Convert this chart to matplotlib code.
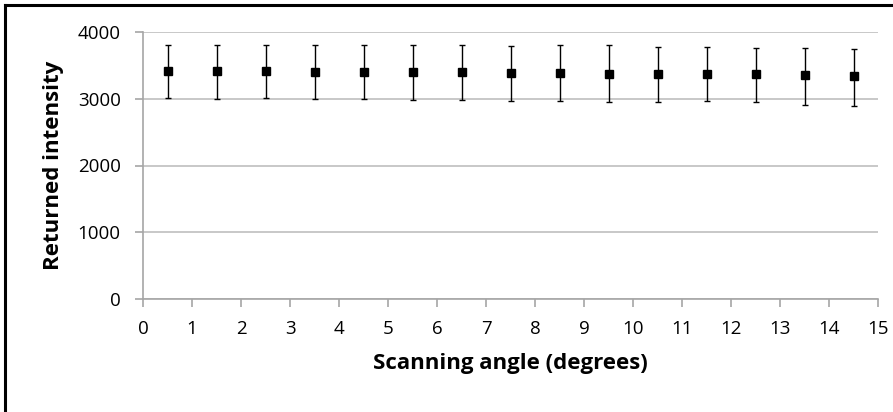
import matplotlib
matplotlib.use("Agg")
import matplotlib.pyplot as plt
from matplotlib.lines import Line2D

plt.rcParams['font.family'] = ['Open Sans', 'DejaVu Sans']

angles = [0.5, 1.5, 2.5, 3.5, 4.5, 5.5, 6.5, 7.5, 8.5, 9.5, 10.5, 11.5, 12.5, 13.5, 14.5]
intensity = [3416, 3416, 3416, 3401, 3401, 3401, 3401, 3386, 3386, 3377, 3377, 3377, 3367, 3351, 3337]
upper = [3808, 3808, 3808, 3808, 3808, 3808, 3808, 3793, 3800, 3800, 3778, 3778, 3759, 3759, 3748]
lower = [3009, 3000, 3009, 2995, 2995, 2980, 2980, 2970, 2970, 2955, 2955, 2970, 2944, 2904, 2889]
xticks = list(range(0, 16))
yticks = [0, 1000, 2000, 3000, 4000]

err_lo = [v - l for v, l in zip(intensity, lower)]
err_hi = [u - v for v, u in zip(intensity, upper)]

fig = plt.figure(figsize=(8.93, 4.12), dpi=100)
ax = fig.add_axes([143/893, 1 - 299/412, (878 - 143)/893, (299 - 32)/412])

ax.errorbar(angles, intensity, yerr=[err_lo, err_hi], fmt='s', color='black',
            ecolor='black', elinewidth=1.0, capsize=2.5, capthick=1.0,
            markersize=6.2, zorder=3)

ax.set_xlim(0, 15)
ax.set_ylim(0, 4000)
ax.set_xticks(xticks)
ax.set_yticks(yticks)
ax.yaxis.grid(True, color='#BFBFBF', linewidth=1.2)
ax.set_axisbelow(True)
for s in ['top', 'right']:
    ax.spines[s].set_visible(False)
for s in ['left', 'bottom']:
    ax.spines[s].set_color('#A6A6A6')
    ax.spines[s].set_linewidth(1.2)
ax.tick_params(axis='both', direction='out', length=6, width=1.2, color='#A6A6A6',
               labelsize=13.5, labelcolor='black')
ax.tick_params(axis='x', pad=9)
ax.tick_params(axis='y', pad=10)

ax.set_xlabel('Scanning angle (degrees)', fontsize=16, fontweight='bold', labelpad=11)
ax.set_ylabel('Returned intensity', fontsize=16, fontweight='bold', labelpad=10)

fig.add_artist(Line2D([5/893, 1], [1 - 5/412, 1 - 5/412], transform=fig.transFigure,
                      color='black', linewidth=2.2))
fig.add_artist(Line2D([5/893, 5/893], [0, 1 - 5/412], transform=fig.transFigure,
                      color='black', linewidth=2.2))

fig.savefig('out.png', dpi=100)
